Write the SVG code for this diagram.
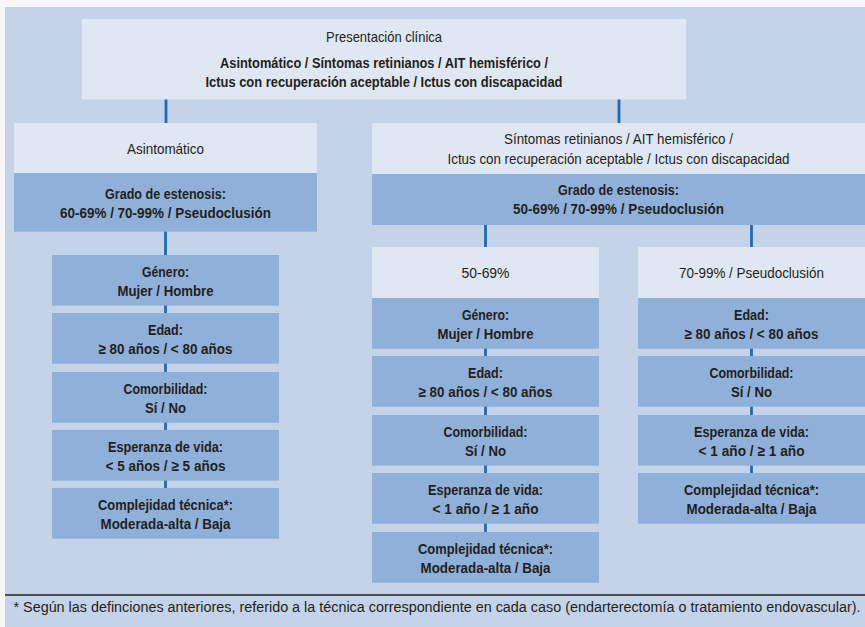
<svg xmlns="http://www.w3.org/2000/svg" width="865" height="627" viewBox="0 0 865 627">
<style>
.bg{fill:#c4d3e8}
.lt{fill:#dfe7f2}
.md{fill:#8fb0d9}
text{font-family:"Liberation Sans Narrow","Liberation Sans","DejaVu Sans Condensed",sans-serif;font-size:15px;fill:#231f20;text-anchor:middle}
.b{font-weight:bold}
.con line{stroke:#1b6db5;stroke-width:2.8}
</style>
<rect x="0" y="0" width="865" height="627" fill="#f7f7f7"/>
<rect class="bg" x="5" y="7" width="860" height="620"/>
<line x1="5" y1="595" x2="865" y2="595" stroke="#222" stroke-width="1.4"/>

<g id="connectors" class="con">
<line x1="166" y1="99" x2="166" y2="123"/>
<line x1="619" y1="99" x2="619" y2="123"/>
<line x1="165.5" y1="231" x2="165.5" y2="255"/>
<line x1="165.5" y1="305" x2="165.5" y2="314"/>
<line x1="165.5" y1="363" x2="165.5" y2="373"/>
<line x1="165.5" y1="422" x2="165.5" y2="431"/>
<line x1="165.5" y1="480" x2="165.5" y2="489"/>
<line x1="485.5" y1="225" x2="485.5" y2="247"/>
<line x1="751.5" y1="225" x2="751.5" y2="247"/>
<line x1="485.5" y1="348" x2="485.5" y2="357"/>
<line x1="485.5" y1="406" x2="485.5" y2="416"/>
<line x1="485.5" y1="465" x2="485.5" y2="474"/>
<line x1="485.5" y1="523" x2="485.5" y2="533"/>
<line x1="751.5" y1="348" x2="751.5" y2="357"/>
<line x1="751.5" y1="406" x2="751.5" y2="416"/>
<line x1="751.5" y1="465" x2="751.5" y2="474"/>
</g>

<g id="presentacion">
<rect class="lt" x="82" y="19" width="604" height="80.5"/>
<text x="384" y="42" textLength="116" lengthAdjust="spacingAndGlyphs">Presentación clínica</text>
<text class="b" x="384" y="68" textLength="328" lengthAdjust="spacingAndGlyphs">Asintomático / Síntomas retinianos / AIT hemisférico /</text>
<text class="b" x="384" y="87" textLength="357" lengthAdjust="spacingAndGlyphs">Ictus con recuperación aceptable / Ictus con discapacidad</text>
</g>

<g id="asintomatico">
<rect class="lt" x="14" y="123" width="303" height="50"/>
<text x="165.5" y="154" textLength="77" lengthAdjust="spacingAndGlyphs">Asintomático</text>
</g>
<g id="grado-asint">
<rect class="md" x="14" y="173" width="303" height="58.7"/>
<text class="b" x="165.5" y="199" textLength="121" lengthAdjust="spacingAndGlyphs">Grado de estenosis:</text>
<text class="b" x="165.5" y="218" textLength="211" lengthAdjust="spacingAndGlyphs">60-69% / 70-99% / Pseudoclusión</text>
</g>

<g id="a-genero">
<rect class="md" x="52" y="255" width="227" height="50.7"/>
<text class="b" x="165.5" y="277" textLength="47" lengthAdjust="spacingAndGlyphs">Género:</text>
<text class="b" x="165.5" y="295.5" textLength="96" lengthAdjust="spacingAndGlyphs">Mujer / Hombre</text>
</g>
<g id="a-edad">
<rect class="md" x="52" y="313" width="227" height="50.7"/>
<text class="b" x="165.5" y="335" textLength="35" lengthAdjust="spacingAndGlyphs">Edad:</text>
<text class="b" x="165.5" y="353.5" textLength="134" lengthAdjust="spacingAndGlyphs">≥ 80 años / &lt; 80 años</text>
</g>
<g id="a-comorbilidad">
<rect class="md" x="52" y="372" width="227" height="50.7"/>
<text class="b" x="165.5" y="394" textLength="84" lengthAdjust="spacingAndGlyphs">Comorbilidad:</text>
<text class="b" x="165.5" y="412.5" textLength="41" lengthAdjust="spacingAndGlyphs">Sí / No</text>
</g>
<g id="a-esperanza">
<rect class="md" x="52" y="430" width="227" height="50.7"/>
<text class="b" x="165.5" y="452" textLength="115" lengthAdjust="spacingAndGlyphs">Esperanza de vida:</text>
<text class="b" x="165.5" y="470.5" textLength="120" lengthAdjust="spacingAndGlyphs">&lt; 5 años / ≥ 5 años</text>
</g>
<g id="a-complejidad">
<rect class="md" x="52" y="488" width="227" height="50.7"/>
<text class="b" x="165.5" y="510" textLength="135" lengthAdjust="spacingAndGlyphs">Complejidad técnica*:</text>
<text class="b" x="165.5" y="528.5" textLength="130" lengthAdjust="spacingAndGlyphs">Moderada-alta / Baja</text>
</g>

<g id="sintomatico">
<rect class="lt" x="372" y="123" width="493" height="51"/>
<text x="618.5" y="144" textLength="229" lengthAdjust="spacingAndGlyphs">Síntomas retinianos / AIT hemisférico /</text>
<text x="618.5" y="164" textLength="342" lengthAdjust="spacingAndGlyphs">Ictus con recuperación aceptable / Ictus con discapacidad</text>
</g>
<g id="grado-sint">
<rect class="md" x="372" y="174" width="493" height="51"/>
<text class="b" x="618.5" y="195" textLength="121" lengthAdjust="spacingAndGlyphs">Grado de estenosis:</text>
<text class="b" x="618.5" y="213.5" textLength="211" lengthAdjust="spacingAndGlyphs">50-69% / 70-99% / Pseudoclusión</text>
</g>

<g id="s50">
<rect class="lt" x="372" y="247" width="227" height="51"/>
<text x="485.5" y="278" textLength="48" lengthAdjust="spacingAndGlyphs">50-69%</text>
</g>
<g id="b-genero">
<rect class="md" x="372" y="298" width="227" height="50.7"/>
<text class="b" x="485.5" y="320" textLength="47" lengthAdjust="spacingAndGlyphs">Género:</text>
<text class="b" x="485.5" y="338.5" textLength="96" lengthAdjust="spacingAndGlyphs">Mujer / Hombre</text>
</g>
<g id="b-edad">
<rect class="md" x="372" y="356" width="227" height="50.7"/>
<text class="b" x="485.5" y="378" textLength="35" lengthAdjust="spacingAndGlyphs">Edad:</text>
<text class="b" x="485.5" y="396.5" textLength="134" lengthAdjust="spacingAndGlyphs">≥ 80 años / &lt; 80 años</text>
</g>
<g id="b-comorbilidad">
<rect class="md" x="372" y="415" width="227" height="50.7"/>
<text class="b" x="485.5" y="437" textLength="84" lengthAdjust="spacingAndGlyphs">Comorbilidad:</text>
<text class="b" x="485.5" y="455.5" textLength="41" lengthAdjust="spacingAndGlyphs">Sí / No</text>
</g>
<g id="b-esperanza">
<rect class="md" x="372" y="473" width="227" height="50.7"/>
<text class="b" x="485.5" y="495" textLength="115" lengthAdjust="spacingAndGlyphs">Esperanza de vida:</text>
<text class="b" x="485.5" y="513.5" textLength="106" lengthAdjust="spacingAndGlyphs">&lt; 1 año / ≥ 1 año</text>
</g>
<g id="b-complejidad">
<rect class="md" x="372" y="532" width="227" height="50.7"/>
<text class="b" x="485.5" y="554" textLength="135" lengthAdjust="spacingAndGlyphs">Complejidad técnica*:</text>
<text class="b" x="485.5" y="572.5" textLength="130" lengthAdjust="spacingAndGlyphs">Moderada-alta / Baja</text>
</g>

<g id="s70">
<rect class="lt" x="638" y="247" width="227" height="51"/>
<text x="751.5" y="278" textLength="145" lengthAdjust="spacingAndGlyphs">70-99% / Pseudoclusión</text>
</g>
<g id="c-edad">
<rect class="md" x="638" y="298" width="227" height="50.7"/>
<text class="b" x="751.5" y="320" textLength="35" lengthAdjust="spacingAndGlyphs">Edad:</text>
<text class="b" x="751.5" y="338.5" textLength="134" lengthAdjust="spacingAndGlyphs">≥ 80 años / &lt; 80 años</text>
</g>
<g id="c-comorbilidad">
<rect class="md" x="638" y="356" width="227" height="50.7"/>
<text class="b" x="751.5" y="378" textLength="84" lengthAdjust="spacingAndGlyphs">Comorbilidad:</text>
<text class="b" x="751.5" y="396.5" textLength="41" lengthAdjust="spacingAndGlyphs">Sí / No</text>
</g>
<g id="c-esperanza">
<rect class="md" x="638" y="415" width="227" height="50.7"/>
<text class="b" x="751.5" y="437" textLength="115" lengthAdjust="spacingAndGlyphs">Esperanza de vida:</text>
<text class="b" x="751.5" y="455.5" textLength="106" lengthAdjust="spacingAndGlyphs">&lt; 1 año / ≥ 1 año</text>
</g>
<g id="c-complejidad">
<rect class="md" x="638" y="473" width="227" height="50.7"/>
<text class="b" x="751.5" y="495" textLength="135" lengthAdjust="spacingAndGlyphs">Complejidad técnica*:</text>
<text class="b" x="751.5" y="513.5" textLength="130" lengthAdjust="spacingAndGlyphs">Moderada-alta / Baja</text>
</g>

<text x="437" y="612" style="font-size:14px" textLength="847" lengthAdjust="spacingAndGlyphs">* Según las definciones anteriores, referido a la técnica correspondiente en cada caso (endarterectomía o tratamiento endovascular).</text>
</svg>
